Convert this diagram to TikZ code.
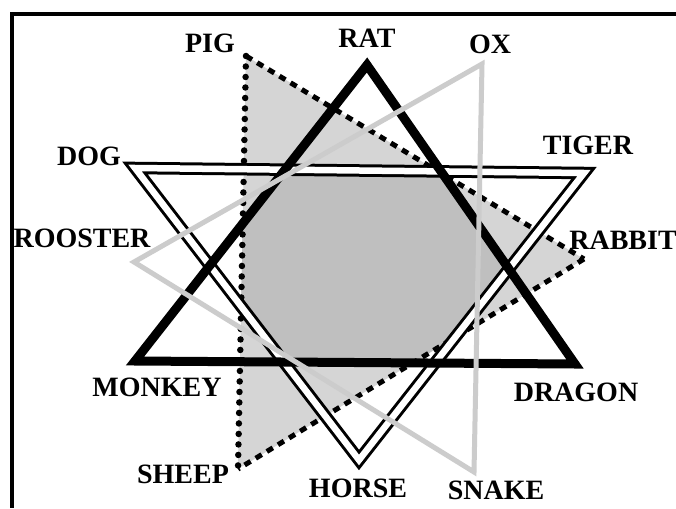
\documentclass[tikz,border=0pt]{standalone}
\usepackage{fontspec}
\setmainfont{Liberation Serif}
\begin{document}
\begin{tikzpicture}[x=1pt,y=-1pt,
  lbl/.style={font=\fontsize{28}{28}\selectfont\bfseries, inner sep=0pt, anchor=center},
  blacktri/.style={line width=9pt, line join=miter, black},
  doubletri/.style={line width=3pt, double=white, double distance=6.5pt, line join=miter, black},
  graytri/.style={line width=5pt, line join=miter, gray!40},
  dotside/.style={line width=6.5pt, dash pattern=on 0pt off 10.5pt, line cap=round, black},
  dashside/.style={line width=5pt, dash pattern=on 7pt off 6pt, black},
  framepen/.style={line width=3.5pt, black}]
\useasboundingbox (0,0) rectangle (676,508);
\fill[white] (0,0) rectangle (676,508);
% frame
\coordinate (ftr) at (676,14);
\coordinate (ftl) at (12,14);
\coordinate (fbl) at (12,508);
\draw[framepen] (ftr) -- (ftl) -- (fbl);
% vertices
\coordinate (rat) at (367,65);
\coordinate (monkey) at (135,361);
\coordinate (dragon) at (575,364);
\coordinate (dog) at (135,168);
\coordinate (tiger) at (584,173);
\coordinate (horse) at (359,460);
\coordinate (pig) at (246,56);
\coordinate (rabbit) at (584,259);
\coordinate (sheep) at (238,469);
\coordinate (ox) at (482,64);
\coordinate (rooster) at (134,262);
\coordinate (snake) at (474,472);
% shading
\fill[gray!33] (pig) -- (rabbit) -- (sheep) -- cycle;
\begin{scope}
  \clip (pig) -- (rabbit) -- (sheep) -- cycle;
  \clip (rat) -- (monkey) -- (dragon) -- cycle;
  \fill[gray!50] (dog) -- (tiger) -- (horse) -- cycle;
\end{scope}
% dotted triangle
\draw[dotside] (pig) -- (sheep);
\draw[dashside] (pig) -- (rabbit);
\draw[dashside] (rabbit) -- (sheep);
% double triangle
\draw[doubletri] (dog) -- (tiger) -- (horse) -- cycle;
% black triangle
\draw[blacktri] (rat) -- (monkey) -- (dragon) -- cycle;
% gray triangle
\draw[graytri] (ox) -- (rooster) -- (snake) -- cycle;
% labels
\node[lbl] (tpig) at (210,43) {PIG};
\node[lbl] (trat) at (367,38) {RAT};
\node[lbl] (tox) at (490,44) {OX};
\node[lbl] (tdog) at (89,156) {DOG};
\node[lbl] (ttiger) at (588,145) {TIGER};
\node[lbl] (trooster) at (82,238) {ROOSTER};
\node[lbl] (trabbit) at (623,240) {RABBIT};
\node[lbl] (tmonkey) at (157,387) {MONKEY};
\node[lbl] (tdragon) at (576,392) {DRAGON};
\node[lbl] (tsheep) at (183,474) {SHEEP};
\node[lbl] (thorse) at (358,488) {HORSE};
\node[lbl] (tsnake) at (496,490) {SNAKE};
\end{tikzpicture}
\end{document}
